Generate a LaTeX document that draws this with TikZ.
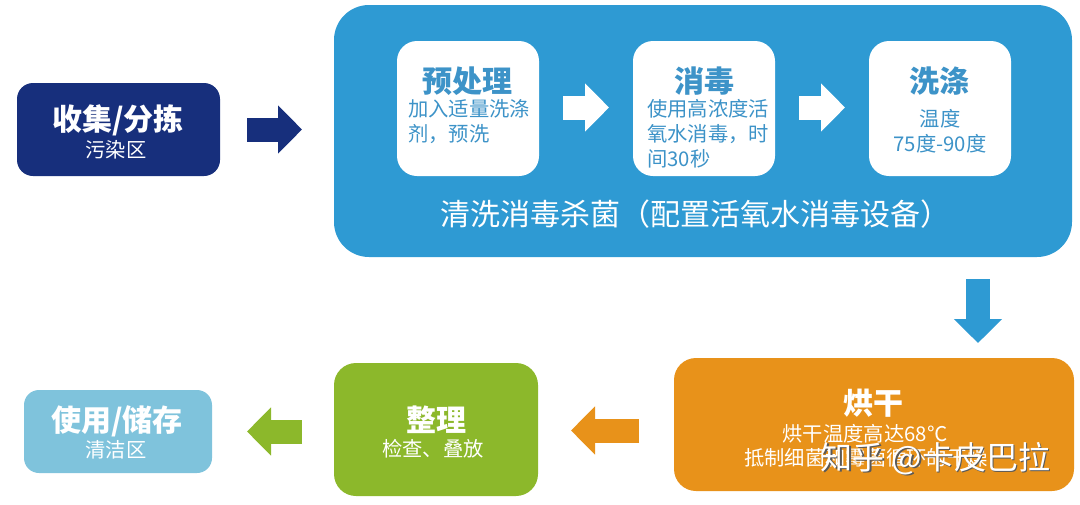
\documentclass[tikz,border=0pt]{standalone}
\usepackage{fontspec}
\setmainfont{Noto Sans CJK SC}
\usepackage{tikz}
\usetikzlibrary{arrows.meta, positioning}

\definecolor{navyc}{HTML}{172F7C}
\definecolor{bluec}{HTML}{2E9AD3}
\definecolor{orangec}{HTML}{E8921A}
\definecolor{greenc}{HTML}{8CB82B}
\definecolor{skyc}{HTML}{7FC3DC}
\definecolor{inkc}{HTML}{3D93C8}

\begin{document}
\begin{tikzpicture}[
    x=1pt, y=-1pt,
    box/.style={rectangle, inner sep=0pt, outer sep=0pt, anchor=north west},
    white box/.style={box, fill=white, rounded corners=20pt, minimum width=142pt, minimum height=135pt},
    head/.style={inner sep=0pt, font=\fontsize{30}{34}\selectfont\bfseries},
    sub/.style={inner sep=0pt, font=\fontsize{20.3}{25}\selectfont},
    block/.style={line width=24pt, -{Triangle[length=24pt, width=47pt]}}
]
\useasboundingbox (0,0) rectangle (1080,504);

\node (collect) [box, fill=navyc, rounded corners=16pt, minimum width=203pt, minimum height=93pt] at (17,83) {};
\node (clean) [box, fill=bluec, rounded corners=35pt, minimum width=738pt, minimum height=252pt] at (334,5) {};
\node (pre) [white box] at (397,41) {};
\node (disinfect) [white box] at (633,41) {};
\node (wash) [white box] at (869,41) {};
\node (dry) [box, fill=orangec, rounded corners=22pt, minimum width=400pt, minimum height=133pt] at (674,358) {};
\node (tidy) [box, fill=greenc, rounded corners=22pt, minimum width=204pt, minimum height=133pt] at (334,363) {};
\node (use) [box, fill=skyc, rounded corners=15pt, minimum width=188pt, minimum height=83pt] at (24,390) {};

\node (collectT) [head, white] at (118,120) {收集/分拣};
\node (collectS) [sub, white] at (116,150) {污染区};
\node (preT) [head, inkc] at (467,81) {预处理};
\node (preS) [sub, inkc, anchor=north west, align=left] at (408,99) {加入适量洗涤\\剂，预洗};
\node (disinfectT) [head, inkc] at (704,81) {消毒};
\node (disinfectS) [sub, inkc, anchor=north west, align=left] at (647,99) {使用高浓度活\\氧水消毒，时\\间30秒};
\node (washT) [head, inkc] at (939,81) {洗涤};
\node (washS) [sub, inkc, align=center] at (940,131) {温度\\75度-90度};
\node (cleanT) [white, inner sep=0pt, font=\fontsize{30}{34}\selectfont] at (695,214) {清洗消毒杀菌（配置活氧水消毒设备）};
\node (dryT) [head, white] at (873,403) {烘干};
\node (dryS) [sub, white] at (865,434) {烘干温度高达68℃};
\node (dryN) [sub, white, anchor=west] at (744,458) {抵制细菌和霉菌循环的干燥};
\node (tidyT) [head, white] at (436,420) {整理};
\node (tidyS) [sub, white] at (433,449) {检查、叠放};
\node (useT) [head, white] at (117,421) {使用/储存};
\node (useS) [sub, white] at (116,450) {清洁区};

\node (markS) [inner sep=0pt, anchor=west, black!65, font=\fontsize{32}{36}\selectfont] at (822,460) {知乎 @卡皮巴拉};
\node (mark) [inner sep=0pt, anchor=west, white, font=\fontsize{32}{36}\selectfont] at (820.5,458.5) {知乎 @卡皮巴拉};

\coordinate (turn) at (978,257);

\draw[block, navyc, shorten <=27pt, shorten >=32pt] (collect.east) -- (clean.west |- collect.east);
\draw[block, white, shorten <=24pt, shorten >=24pt] ([yshift=1pt]pre.east) -- ([yshift=1pt]disinfect.west);
\draw[block, white, shorten <=24pt, shorten >=24pt] ([yshift=1pt]disinfect.east) -- ([yshift=1pt]wash.west);
\draw[block, bluec, shorten <=22pt, shorten >=15pt] (turn) -- (turn |- dry.north);
\draw[block, orangec, shorten <=35pt, shorten >=33pt] ([yshift=-6pt]dry.west) -- ([yshift=-6pt]dry.west -| tidy.east);
\draw[block, greenc, shorten <=32pt, shorten >=35pt] ([yshift=-2pt]tidy.west) -- ([yshift=-2pt]tidy.west -| use.east);
\end{tikzpicture}
\end{document}
